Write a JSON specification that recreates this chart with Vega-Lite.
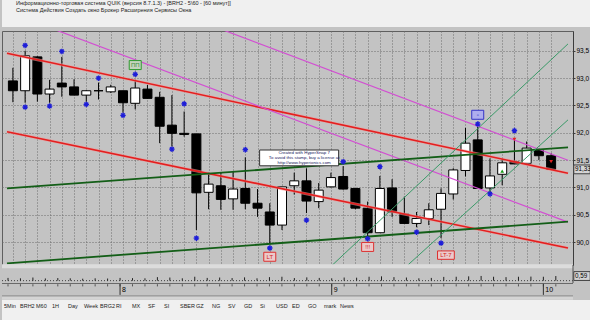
{
  "$schema": "https://vega.github.io/schema/vega-lite/v6.json",
  "padding": 0,
  "background": "#c3c3c3",
  "spacing": 0,
  "bounds": "flush",
  "config": {
    "font": "Liberation Sans",
    "view": {"stroke": null},
    "concat": {"spacing": 0},
    "axisX": {"tickCount": 46, "labelOverlap": false},
    "axisY": {"tickCount": 9, "labelOverlap": false}
  },
  "datasets": {
    "candles": [
      {"i":0,"o":92.95,"h":93.19,"l":92.56,"c":92.77,"ind":0.35},
      {"i":1,"o":92.77,"h":93.50,"l":92.55,"c":93.41,"ind":0.30},
      {"i":2,"o":93.39,"h":93.40,"l":92.57,"c":92.71,"ind":0.40},
      {"i":3,"o":92.71,"h":92.97,"l":92.55,"c":92.80,"ind":0.28},
      {"i":4,"o":92.91,"h":93.39,"l":92.66,"c":92.84,"ind":0.33},
      {"i":5,"o":92.84,"h":92.98,"l":92.69,"c":92.69,"ind":0.30},
      {"i":6,"o":92.69,"h":92.78,"l":92.57,"c":92.77,"ind":0.25},
      {"i":7,"o":92.77,"h":92.92,"l":92.61,"c":92.77,"ind":0.30},
      {"i":8,"o":92.75,"h":92.88,"l":92.73,"c":92.84,"ind":0.27},
      {"i":9,"o":92.77,"h":92.77,"l":92.37,"c":92.55,"ind":0.35},
      {"i":10,"o":92.54,"h":92.97,"l":92.43,"c":92.82,"ind":0.32},
      {"i":11,"o":92.80,"h":92.88,"l":92.63,"c":92.63,"ind":0.30},
      {"i":12,"o":92.65,"h":92.75,"l":91.81,"c":92.12,"ind":0.45},
      {"i":13,"o":92.14,"h":92.69,"l":91.75,"c":91.99,"ind":0.40},
      {"i":14,"o":91.99,"h":92.39,"l":91.93,"c":91.97,"ind":0.30},
      {"i":15,"o":91.98,"h":91.98,"l":90.22,"c":90.90,"ind":0.50},
      {"i":16,"o":90.91,"h":91.27,"l":90.60,"c":91.06,"ind":0.35},
      {"i":17,"o":91.03,"h":91.27,"l":90.59,"c":90.78,"ind":0.40},
      {"i":18,"o":90.79,"h":91.29,"l":90.59,"c":90.97,"ind":0.33},
      {"i":19,"o":90.98,"h":91.55,"l":90.60,"c":90.71,"ind":0.42},
      {"i":20,"o":90.71,"h":90.97,"l":90.46,"c":90.62,"ind":0.30},
      {"i":21,"o":90.55,"h":90.71,"l":89.98,"c":90.31,"ind":0.45},
      {"i":22,"o":90.31,"h":91.01,"l":90.22,"c":91.01,"ind":0.50},
      {"i":23,"o":91.03,"h":91.27,"l":90.87,"c":91.12,"ind":0.33},
      {"i":24,"o":91.12,"h":91.35,"l":90.53,"c":90.75,"ind":0.42},
      {"i":25,"o":90.74,"h":91.08,"l":90.62,"c":90.95,"ind":0.35},
      {"i":26,"o":91.01,"h":91.27,"l":91.00,"c":91.18,"ind":0.30},
      {"i":27,"o":91.20,"h":91.39,"l":90.96,"c":90.97,"ind":0.40},
      {"i":28,"o":90.98,"h":90.98,"l":90.60,"c":90.62,"ind":0.38},
      {"i":29,"o":90.62,"h":90.74,"l":90.10,"c":90.17,"ind":0.50},
      {"i":30,"o":90.17,"h":91.21,"l":90.17,"c":90.98,"ind":0.55},
      {"i":31,"o":90.99,"h":91.15,"l":90.46,"c":90.55,"ind":0.45},
      {"i":32,"o":90.51,"h":90.83,"l":90.34,"c":90.34,"ind":0.40},
      {"i":33,"o":90.34,"h":90.55,"l":90.27,"c":90.43,"ind":0.30},
      {"i":34,"o":90.43,"h":90.71,"l":90.31,"c":90.59,"ind":0.35},
      {"i":35,"o":90.60,"h":90.98,"l":90.07,"c":90.89,"ind":0.48},
      {"i":36,"o":90.88,"h":91.35,"l":90.78,"c":91.32,"ind":0.50},
      {"i":37,"o":91.31,"h":92.09,"l":91.20,"c":91.81,"ind":0.55},
      {"i":38,"o":91.87,"h":92.11,"l":90.98,"c":90.98,"ind":0.60},
      {"i":39,"o":90.99,"h":91.53,"l":90.89,"c":91.21,"ind":0.50},
      {"i":40,"o":91.24,"h":91.53,"l":91.04,"c":91.45,"ind":0.45},
      {"i":41,"o":91.47,"h":91.90,"l":91.43,"c":91.43,"ind":0.50},
      {"i":42,"o":91.44,"h":91.84,"l":91.41,"c":91.72,"ind":0.52},
      {"i":43,"o":91.68,"h":91.70,"l":91.50,"c":91.58,"ind":0.50},
      {"i":44,"o":91.58,"h":91.63,"l":91.33,"c":91.33,"ind":0.59}
    ],
    "stars": [
      {"i":1,"v":93.6},{"i":1,"v":92.47},{"i":3,"v":92.49},{"i":4,"v":93.49},
      {"i":6,"v":92.52},{"i":7,"v":93.0},{"i":9,"v":92.32},{"i":10,"v":93.07},
      {"i":13,"v":91.7},{"i":14,"v":92.53},{"i":15,"v":90.07},{"i":19,"v":91.69},
      {"i":21,"v":89.89},{"i":24,"v":90.4},{"i":27,"v":91.47},{"i":29,"v":90.06},
      {"i":30,"v":91.38},{"i":33,"v":90.18},{"i":35,"v":89.98},{"i":38,"v":92.16},
      {"i":39,"v":90.88},{"i":41,"v":92.04}
    ],
    "lines": [
      {"id":"R1","i":-0.482,"v":93.456},{"id":"R1","i":45.38,"v":91.26},
      {"id":"R2","i":-0.482,"v":92.02},{"id":"R2","i":45.38,"v":89.89},
      {"id":"P1","i":2,"v":94.01},{"id":"P1","i":45.38,"v":90.365},
      {"id":"P2","i":15,"v":94.068},{"id":"P2","i":45.38,"v":91.498},
      {"id":"G1","i":-0.482,"v":90.984},{"id":"G1","i":45.38,"v":91.734},
      {"id":"G2","i":-0.482,"v":89.61},{"id":"G2","i":45.38,"v":90.372},
      {"id":"T1","i":25.86,"v":89.524},{"id":"T1","i":45.38,"v":93.628},
      {"id":"T2","i":32.29,"v":89.579},{"id":"T2","i":45.38,"v":92.237}
    ],
    "labels": [
      {"i":10,"v":93.24,"text":"ПП"},
      {"i":21,"v":89.73,"text":"LT"},
      {"i":29,"v":89.91,"text":"!!!"},
      {"i":35.4,"v":89.76,"text":"LT-7"},
      {"i":38,"v":92.33,"text":"▫"}
    ],
    "signals": [
      {"i":40,"v":91.3,"dir":"up"},
      {"i":44,"v":91.47,"dir":"down"},
      {"i":41,"v":91.88,"dir":"down"}
    ],
    "stamp": [
      {"i":23.4,"v":91.54,"text":["Created with HyperSnap 7","To avoid this stamp, buy a license at","http://www.hyperionics.com"]}
    ],
    "days": [{"i":9,"d":"8"},{"i":26,"d":"9"},{"i":43,"d":"10"}],
    "tabs": [
      {"k":0,"name":"5Min"},{"k":1,"name":"BRH2"},{"k":2,"name":"M60"},{"k":3,"name":"1H"},
      {"k":4,"name":"Day"},{"k":5,"name":"Week"},{"k":6,"name":"BRG2"},{"k":7,"name":"RI"},
      {"k":8,"name":"MX"},{"k":9,"name":"SF"},{"k":10,"name":"SI"},{"k":11,"name":"SBER"},
      {"k":12,"name":"GZ"},{"k":13,"name":"NG"},{"k":14,"name":"SV"},{"k":15,"name":"GD"},
      {"k":16,"name":"Si"},{"k":17,"name":"USD"},{"k":18,"name":"ED"},{"k":19,"name":"GO"},
      {"k":20,"name":"mark"},{"k":21,"name":"News"}
    ],
    "header": [
      {"line":1,"text":"Информационно-торговая система QUIK (версия 8.7.1.3) - [BRH2 - 5\\60 - [60 минут]]"},
      {"line":2,"text":"Система    Действия    Создать окно    Брокер    Расширения    Сервисы    Окна"}
    ]
  },
  "vconcat": [
    {
      "width": 590, "height": 27,
      "view": {"fill": "#f0f0f0"},
      "data": {"name": "header"},
      "mark": {"type": "text", "align": "left", "baseline": "middle", "fontSize": 5.5, "color": "#222222"},
      "encoding": {
        "x": {"value": 14},
        "y": {"field": "line", "type": "ordinal", "axis": null, "scale": {"type": "point", "domain": [1, 2, 3, 4]}},
        "text": {"field": "text"}
      }
    },
    {
      "width": 590, "height": 4,
      "data": {"values": []},
      "mark": "rule",
      "encoding": {}
    },
    {
      "width": 571, "height": 234,
      "view": {"fill": "#c3c3c3", "stroke": "#5f5f5f"},
      "layer": [
        {
          "data": {"name": "candles"},
          "mark": {"type": "rule", "color": "#000000", "strokeWidth": 1},
          "encoding": {
            "x": {"field": "i", "type": "quantitative", "scale": {"domain": [-0.482, 45.38], "nice": false, "zero": false},
                  "axis": {"values": [0,1,2,3,4,5,6,7,8,9,10,11,12,13,14,15,16,17,18,19,20,21,22,23,24,25,26,27,28,29,30,31,32,33,34,35,36,37,38,39,40,41,42,43,44],
                           "tickCount": 46,
                           "grid": true, "gridColor": "#6c6c6c", "gridDash": [1, 2], "labels": false, "ticks": false, "domain": false, "title": null}},
            "y": {"field": "l", "type": "quantitative", "scale": {"domain": [89.579, 93.864], "nice": false, "zero": false},
                  "axis": {"orient": "right", "values": [90, 90.5, 91, 91.5, 92, 92.5, 93, 93.5],
                           "tickCount": 9,
                           "labelExpr": "replace(format(datum.value, '.1f'), '.', ',')",
                           "labelOverlap": false, "labelBound": false,
                           "grid": true, "gridColor": "#6c6c6c", "gridDash": [1, 2], "domain": true, "domainColor": "#3c3c3c",
                           "ticks": true, "tickSize": 2, "tickColor": "#3c3c3c", "labelFontSize": 6.5, "labelColor": "#000000",
                           "labelPadding": 1, "title": null}},
            "y2": {"field": "h"}
          }
        },
        {
          "data": {"name": "candles"},
          "mark": {"type": "bar", "size": 9, "stroke": "#000000", "strokeWidth": 1},
          "encoding": {
            "x": {"field": "i", "type": "quantitative", "scale": {"domain": [-0.482, 45.38], "nice": false, "zero": false}},
            "y": {"field": "o", "type": "quantitative", "scale": {"domain": [89.579, 93.864], "nice": false, "zero": false}},
            "y2": {"field": "c"},
            "fill": {"condition": {"test": "datum.c >= datum.o", "value": "#ffffff"}, "value": "#000000"}
          }
        },
        {
          "data": {"name": "lines"},
          "transform": [{"filter": "substring(datum.id, 0, 1) == 'R'"}],
          "mark": {"type": "line", "clip": true, "strokeWidth": 3, "color": "#ee9c9c", "opacity": 0.6},
          "encoding": {
            "x": {"field": "i", "type": "quantitative", "scale": {"domain": [-0.482, 45.38], "nice": false, "zero": false}},
            "y": {"field": "v", "type": "quantitative", "scale": {"domain": [89.579, 93.864], "nice": false, "zero": false}},
            "detail": {"field": "id"}
          }
        },
        {
          "data": {"name": "lines"},
          "transform": [{"filter": "substring(datum.id, 0, 1) == 'R'"}],
          "mark": {"type": "line", "clip": true, "strokeWidth": 1.6, "color": "#e41f1f"},
          "encoding": {
            "x": {"field": "i", "type": "quantitative", "scale": {"domain": [-0.482, 45.38], "nice": false, "zero": false}},
            "y": {"field": "v", "type": "quantitative", "scale": {"domain": [89.579, 93.864], "nice": false, "zero": false}},
            "detail": {"field": "id"}
          }
        },
        {
          "data": {"name": "lines"},
          "transform": [{"filter": "substring(datum.id, 0, 1) == 'P'"}],
          "mark": {"type": "line", "clip": true, "strokeWidth": 1.2, "color": "#d24fd2"},
          "encoding": {
            "x": {"field": "i", "type": "quantitative", "scale": {"domain": [-0.482, 45.38], "nice": false, "zero": false}},
            "y": {"field": "v", "type": "quantitative", "scale": {"domain": [89.579, 93.864], "nice": false, "zero": false}},
            "detail": {"field": "id"}
          }
        },
        {
          "data": {"name": "lines"},
          "transform": [{"filter": "substring(datum.id, 0, 1) == 'G'"}],
          "mark": {"type": "line", "clip": true, "strokeWidth": 1.8, "color": "#135e17"},
          "encoding": {
            "x": {"field": "i", "type": "quantitative", "scale": {"domain": [-0.482, 45.38], "nice": false, "zero": false}},
            "y": {"field": "v", "type": "quantitative", "scale": {"domain": [89.579, 93.864], "nice": false, "zero": false}},
            "detail": {"field": "id"}
          }
        },
        {
          "data": {"name": "lines"},
          "transform": [{"filter": "substring(datum.id, 0, 1) == 'T'"}],
          "mark": {"type": "line", "clip": true, "strokeWidth": 1, "color": "#3a9a68"},
          "encoding": {
            "x": {"field": "i", "type": "quantitative", "scale": {"domain": [-0.482, 45.38], "nice": false, "zero": false}},
            "y": {"field": "v", "type": "quantitative", "scale": {"domain": [89.579, 93.864], "nice": false, "zero": false}},
            "detail": {"field": "id"}
          }
        },
        {
          "data": {"name": "stars"},
          "mark": {"type": "point", "shape": "M-1,0L1,0M0,-1L0,1M-0.7,-0.7L0.7,0.7M-0.7,0.7L0.7,-0.7", "filled": false, "stroke": "#1e1ed8", "strokeWidth": 1.3, "size": 30, "opacity": 1},
          "encoding": {
            "x": {"field": "i", "type": "quantitative", "scale": {"domain": [-0.482, 45.38], "nice": false, "zero": false}},
            "y": {"field": "v", "type": "quantitative", "scale": {"domain": [89.579, 93.864], "nice": false, "zero": false}}
          }
        },
        {
          "data": {"name": "signals"},
          "mark": {"type": "point", "filled": true, "size": 14, "opacity": 1},
          "encoding": {
            "x": {"field": "i", "type": "quantitative", "scale": {"domain": [-0.482, 45.38], "nice": false, "zero": false}},
            "y": {"field": "v", "type": "quantitative", "scale": {"domain": [89.579, 93.864], "nice": false, "zero": false}},
            "shape": {"condition": {"test": "datum.dir == 'up'", "value": "triangle-up"}, "value": "triangle-down"},
            "fill": {"condition": {"test": "datum.dir == 'up'", "value": "#1c9a1c"}, "value": "#e02020"}
          }
        },
        {
          "data": {"name": "labels"},
          "mark": {"type": "point", "filled": true, "size": 144, "strokeWidth": 1, "opacity": 1},
          "encoding": {
            "x": {"field": "i", "type": "quantitative", "scale": {"domain": [-0.482, 45.38], "nice": false, "zero": false}},
            "y": {"field": "v", "type": "quantitative", "scale": {"domain": [89.579, 93.864], "nice": false, "zero": false}},
            "shape": {"condition": {"test": "datum.text == 'LT-7'", "value": "M-1.4,-0.7L1.4,-0.7L1.4,0.7L-1.4,0.7Z"}, "value": "M-1,-0.75L1,-0.75L1,0.75L-1,0.75Z"},
            "fill": {"condition": [{"test": "datum.text == 'ПП'", "value": "#c4d3bd"}, {"test": "datum.text == '▫'", "value": "#aeaeee"}], "value": "#ebcaca"},
            "stroke": {"condition": [{"test": "datum.text == 'ПП'", "value": "#2f9a2f"}, {"test": "datum.text == '▫'", "value": "#3535c8"}], "value": "#dd3030"}
          }
        },
        {
          "data": {"name": "labels"},
          "mark": {"type": "text", "fontSize": 6, "baseline": "middle", "align": "center"},
          "encoding": {
            "x": {"field": "i", "type": "quantitative", "scale": {"domain": [-0.482, 45.38], "nice": false, "zero": false}},
            "y": {"field": "v", "type": "quantitative", "scale": {"domain": [89.579, 93.864], "nice": false, "zero": false}},
            "text": {"field": "text"},
            "color": {"condition": [{"test": "datum.text == 'ПП'", "value": "#3f8f3f"}, {"test": "datum.text == '▫'", "value": "#3535c8"}], "value": "#d42020"}
          }
        },
        {
          "data": {"name": "stamp"},
          "mark": {"type": "point", "shape": "M-1,-0.2L1,-0.2L1,0.2L-1,0.2Z", "filled": true, "fill": "#ffffff", "stroke": "#303030", "strokeWidth": 1, "size": 6241, "opacity": 1},
          "encoding": {
            "x": {"field": "i", "type": "quantitative", "scale": {"domain": [-0.482, 45.38], "nice": false, "zero": false}},
            "y": {"field": "v", "type": "quantitative", "scale": {"domain": [89.579, 93.864], "nice": false, "zero": false}}
          }
        },
        {
          "data": {"name": "stamp"},
          "mark": {"type": "text", "fontSize": 4.4, "lineHeight": 4.8, "baseline": "middle", "align": "center", "dx": 5, "dy": -5, "color": "#202060"},
          "encoding": {
            "x": {"field": "i", "type": "quantitative", "scale": {"domain": [-0.482, 45.38], "nice": false, "zero": false}},
            "y": {"field": "v", "type": "quantitative", "scale": {"domain": [89.579, 93.864], "nice": false, "zero": false}},
            "text": {"field": "text"}
          }
        },
        {
          "data": {"name": "candles"},
          "transform": [{"filter": "datum.i == 44"}],
          "mark": {"type": "point", "shape": "M0.1,-0.55L2.15,-0.55L2.15,0.55L0.1,0.55Z", "filled": true, "fill": "#d4d4d4", "stroke": "#404040", "strokeWidth": 1, "size": 256, "opacity": 1},
          "encoding": {
            "x": {"value": "width"},
            "y": {"field": "c", "type": "quantitative", "scale": {"domain": [89.579, 93.864], "nice": false, "zero": false}}
          }
        },
        {
          "data": {"name": "candles"},
          "transform": [{"filter": "datum.i == 44"}, {"calculate": "replace(format(datum.c, '.2f'), '.', ',')", "as": "lbl"}],
          "mark": {"type": "text", "align": "left", "baseline": "middle", "dx": 2, "fontSize": 6.3, "color": "#000000"},
          "encoding": {
            "x": {"value": "width"},
            "y": {"field": "c", "type": "quantitative", "scale": {"domain": [89.579, 93.864], "nice": false, "zero": false}},
            "text": {"field": "lbl"}
          }
        }
      ]
    },
    {
      "width": 571, "height": 18,
      "view": {"fill": "#c3c3c3"},
      "layer": [
        {
          "data": {"values": [{}]},
          "mark": {"type": "rule", "color": "#dcdcdc", "strokeWidth": 4},
          "encoding": {"y": {"datum": 1.85, "type": "quantitative", "scale": {"domain": [-0.3, 2.0], "nice": false, "zero": false}, "axis": null}}
        },
        {
          "data": {"values": [{}]},
          "mark": {"type": "rule", "color": "#404040", "strokeDash": [1, 2], "strokeWidth": 1},
          "encoding": {"y": {"datum": 0, "type": "quantitative", "scale": {"domain": [-0.3, 2.0], "nice": false, "zero": false}}}
        },
        {
          "data": {"name": "candles"},
          "mark": {"type": "rule", "color": "#202020", "strokeWidth": 1},
          "encoding": {
            "x": {"field": "i", "type": "quantitative", "scale": {"domain": [-0.482, 45.38], "nice": false, "zero": false}, "axis": null},
            "y": {"field": "ind", "type": "quantitative", "scale": {"domain": [-0.3, 2.0], "nice": false, "zero": false}},
            "y2": {"datum": 0}
          }
        },
        {
          "data": {"values": [{}]},
          "mark": {"type": "rule", "color": "#505050", "strokeWidth": 1},
          "encoding": {"x": {"value": "width"}}
        },
        {
          "data": {"name": "candles"},
          "transform": [{"filter": "datum.i == 44"}],
          "mark": {"type": "point", "shape": "M0.1,-0.55L2.15,-0.55L2.15,0.55L0.1,0.55Z", "filled": true, "fill": "#d4d4d4", "stroke": "#404040", "strokeWidth": 1, "size": 256, "opacity": 1},
          "encoding": {
            "x": {"value": "width"},
            "y": {"field": "ind", "type": "quantitative", "scale": {"domain": [-0.3, 2.0], "nice": false, "zero": false}}
          }
        },
        {
          "data": {"name": "candles"},
          "transform": [{"filter": "datum.i == 44"}, {"calculate": "replace(format(datum.ind, '.2f'), '.', ',')", "as": "lbl"}],
          "mark": {"type": "text", "align": "left", "baseline": "middle", "dx": 2, "fontSize": 6.3, "color": "#000000"},
          "encoding": {
            "x": {"value": "width"},
            "y": {"field": "ind", "type": "quantitative", "scale": {"domain": [-0.3, 2.0], "nice": false, "zero": false}},
            "text": {"field": "lbl"}
          }
        }
      ]
    },
    {
      "width": 571, "height": 17,
      "view": {"fill": "#c3c3c3"},
      "layer": [
        {
          "data": {"values": [{}]},
          "mark": {"type": "rule", "color": "#6a6a6a", "strokeWidth": 1},
          "encoding": {"y": {"datum": 0.97, "type": "quantitative", "scale": {"domain": [0, 1], "nice": false, "zero": false}, "axis": null}}
        },
        {
          "data": {"name": "candles"},
          "mark": {"type": "rule", "color": "#555555", "strokeWidth": 1},
          "encoding": {
            "x": {"field": "i", "type": "quantitative", "scale": {"domain": [-0.482, 45.38], "nice": false, "zero": false}, "axis": null},
            "y": {"datum": 0.93, "type": "quantitative", "scale": {"domain": [0, 1], "nice": false, "zero": false}},
            "y2": {"datum": 0.8}
          }
        },
        {
          "data": {"name": "days"},
          "mark": {"type": "rule", "color": "#303030", "strokeWidth": 1},
          "encoding": {
            "x": {"field": "i", "type": "quantitative", "scale": {"domain": [-0.482, 45.38], "nice": false, "zero": false}},
            "y": {"datum": 0.95, "type": "quantitative", "scale": {"domain": [0, 1], "nice": false, "zero": false}},
            "y2": {"datum": 0.3}
          }
        },
        {
          "data": {"name": "days"},
          "mark": {"type": "text", "align": "left", "baseline": "middle", "dx": 2, "fontSize": 7, "color": "#000000"},
          "encoding": {
            "x": {"field": "i", "type": "quantitative", "scale": {"domain": [-0.482, 45.38], "nice": false, "zero": false}},
            "y": {"datum": 0.6, "type": "quantitative", "scale": {"domain": [0, 1], "nice": false, "zero": false}},
            "text": {"field": "d"}
          }
        },
        {
          "data": {"values": [{}]},
          "mark": {"type": "rule", "color": "#8a8a8a", "strokeWidth": 1},
          "encoding": {"y": {"datum": 0.24, "type": "quantitative", "scale": {"domain": [0, 1], "nice": false, "zero": false}}}
        },
        {
          "data": {"values": [{}]},
          "mark": {"type": "rule", "color": "#d4d4d4", "strokeWidth": 3},
          "encoding": {"y": {"datum": 0.1, "type": "quantitative", "scale": {"domain": [0, 1], "nice": false, "zero": false}}}
        }
      ]
    },
    {
      "width": 590, "height": 20,
      "view": {"fill": "#f0f0f0"},
      "data": {"name": "tabs"},
      "mark": {"type": "text", "align": "left", "baseline": "middle", "fontSize": 5.5, "color": "#222222"},
      "encoding": {
        "x": {"field": "k", "type": "quantitative", "scale": {"domain": [-0.125, 36.75], "nice": false, "zero": false}, "axis": null},
        "y": {"datum": 0.7, "type": "quantitative", "scale": {"domain": [0, 1], "nice": false, "zero": false}, "axis": null},
        "text": {"field": "name"}
      }
    }
  ]
}
